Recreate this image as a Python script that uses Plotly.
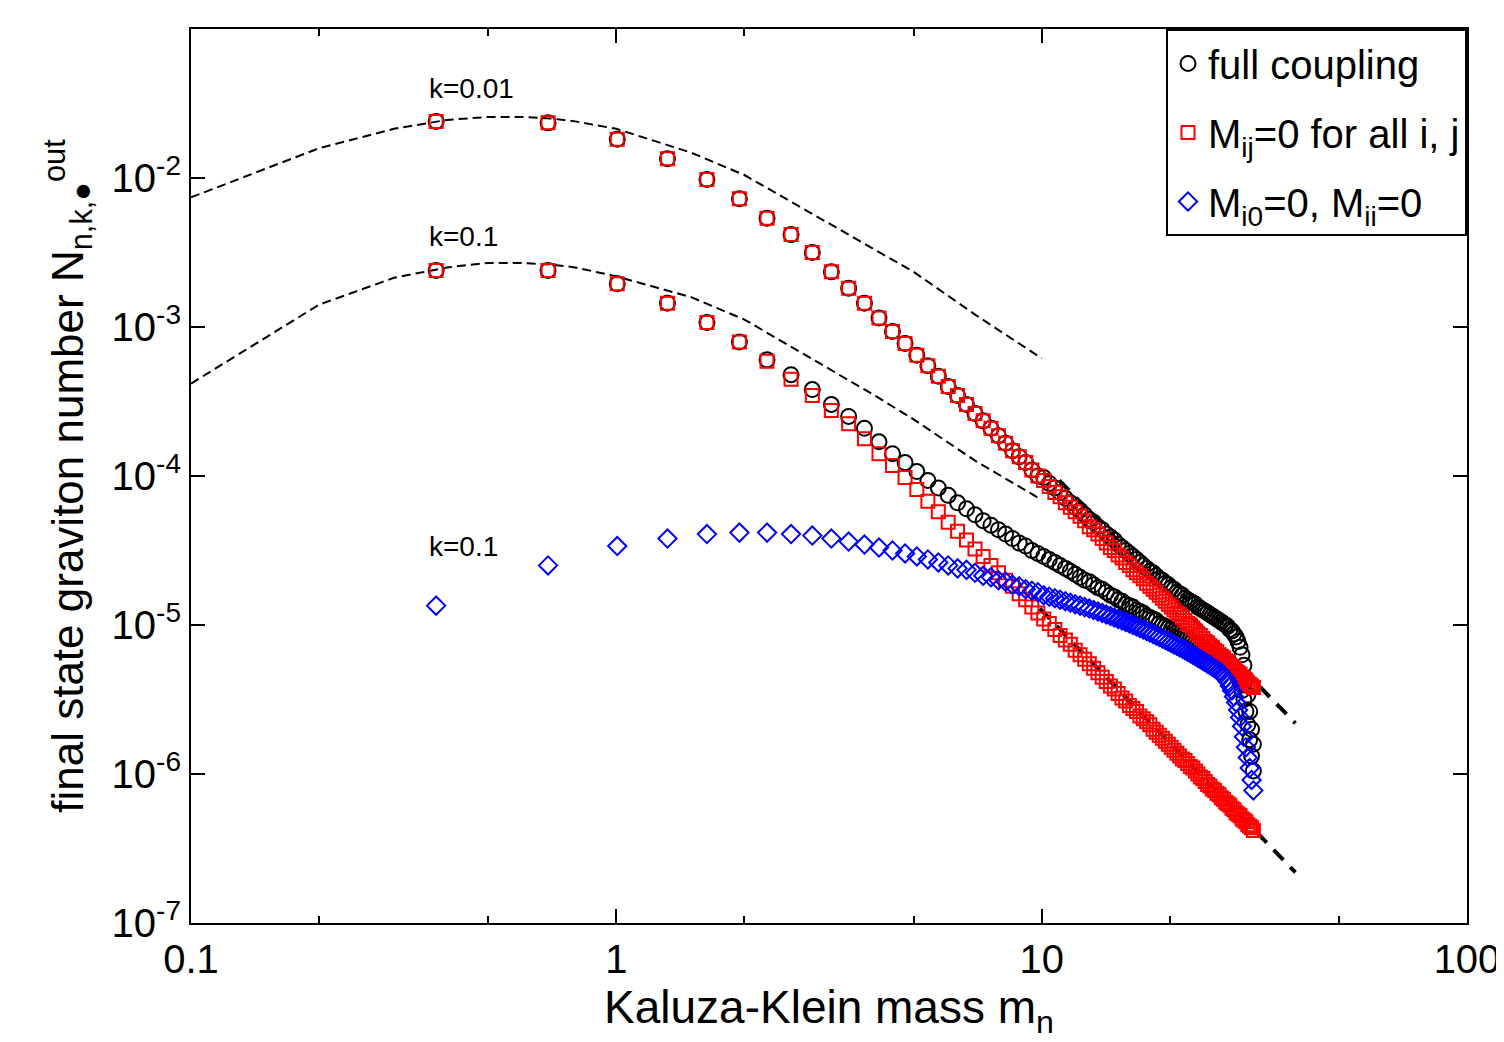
import plotly.graph_objects as go

# Kaluza-Klein masses m_n (n = 1..100)
mass = [0.377, 0.691, 1.005, 1.319, 1.633, 1.947, 2.261, 2.575, 2.889, 3.203,
        3.517, 3.831, 4.145, 4.459, 4.773, 5.087, 5.401, 5.715, 6.029, 6.343,
        6.657, 6.971, 7.285, 7.599, 7.913, 8.227, 8.541, 8.855, 9.169, 9.483,
        9.797, 10.11, 10.42, 10.74, 11.05, 11.37, 11.68, 11.99, 12.31, 12.62,
        12.94, 13.25, 13.56, 13.88, 14.19, 14.51, 14.82, 15.13, 15.45, 15.76,
        16.08, 16.39, 16.71, 17.02, 17.33, 17.65, 17.96, 18.28, 18.59, 18.90,
        19.22, 19.53, 19.85, 20.16, 20.47, 20.79, 21.10, 21.42, 21.73, 22.04,
        22.36, 22.67, 22.99, 23.30, 23.61, 23.93, 24.24, 24.56, 24.87, 25.18,
        25.50, 25.81, 26.13, 26.44, 26.75, 27.07, 27.38, 27.70, 28.01, 28.32,
        28.64, 28.95, 29.27, 29.58, 29.89, 30.21, 30.52, 30.84, 31.15, 31.46]

# log10 of N
full_k001 = [-1.62, -1.63, -1.74, -1.87, -2.01, -2.14, -2.27, -2.38, -2.50, -2.63,
             -2.74, -2.84, -2.94, -3.03, -3.11, -3.19, -3.26, -3.33, -3.40, -3.46,
             -3.52, -3.58, -3.63, -3.68, -3.73, -3.78, -3.83, -3.87, -3.91, -3.96,
             -4.00, -4.01, -4.05, -4.08, -4.11, -4.15, -4.18, -4.21, -4.23, -4.26,
             -4.29, -4.31, -4.34, -4.36, -4.39, -4.41, -4.43, -4.46, -4.48, -4.50,
             -4.52, -4.54, -4.56, -4.58, -4.60, -4.62, -4.64, -4.65, -4.67, -4.69,
             -4.70, -4.72, -4.73, -4.75, -4.76, -4.78, -4.79, -4.80, -4.82, -4.83,
             -4.84, -4.85, -4.86, -4.88, -4.89, -4.90, -4.91, -4.92, -4.93, -4.94,
             -4.95, -4.96, -4.97, -4.98, -4.99, -5.00, -5.01, -5.03, -5.04, -5.06,
             -5.08, -5.11, -5.15, -5.20, -5.27, -5.36, -5.47, -5.58, -5.70, -5.80]
mij_k001 = [-1.62, -1.63, -1.74, -1.87, -2.01, -2.14, -2.27, -2.38, -2.50, -2.63,
            -2.74, -2.84, -2.94, -3.03, -3.11, -3.19, -3.26, -3.33, -3.40, -3.46,
            -3.52, -3.58, -3.63, -3.68, -3.73, -3.78, -3.83, -3.87, -3.91, -3.96,
            -4.00, -4.03, -4.07, -4.11, -4.14, -4.18, -4.21, -4.24, -4.27, -4.30,
            -4.34, -4.36, -4.39, -4.42, -4.45, -4.48, -4.50, -4.53, -4.55, -4.58,
            -4.60, -4.63, -4.65, -4.67, -4.69, -4.72, -4.74, -4.76, -4.78, -4.80,
            -4.82, -4.84, -4.86, -4.88, -4.90, -4.92, -4.93, -4.95, -4.97, -4.99,
            -5.00, -5.02, -5.04, -5.06, -5.07, -5.09, -5.11, -5.12, -5.14, -5.15,
            -5.17, -5.18, -5.20, -5.21, -5.22, -5.24, -5.25, -5.27, -5.28, -5.29,
            -5.31, -5.32, -5.33, -5.35, -5.36, -5.37, -5.39, -5.40, -5.41, -5.42]
full_k01 = [-2.62, -2.62, -2.71, -2.84, -2.97, -3.10, -3.22, -3.32, -3.42, -3.52,
            -3.60, -3.68, -3.77, -3.85, -3.91, -3.97, -4.03, -4.08, -4.13, -4.18,
            -4.22, -4.26, -4.30, -4.33, -4.36, -4.39, -4.42, -4.45, -4.47, -4.50,
            -4.52, -4.54, -4.56, -4.58, -4.60, -4.62, -4.64, -4.66, -4.68, -4.70,
            -4.71, -4.73, -4.75, -4.76, -4.78, -4.80, -4.81, -4.83, -4.84, -4.86,
            -4.87, -4.88, -4.90, -4.91, -4.92, -4.94, -4.95, -4.96, -4.97, -4.99,
            -5.00, -5.01, -5.02, -5.03, -5.04, -5.05, -5.06, -5.07, -5.08, -5.09,
            -5.10, -5.11, -5.12, -5.13, -5.14, -5.15, -5.16, -5.17, -5.18, -5.19,
            -5.20, -5.21, -5.22, -5.23, -5.24, -5.25, -5.26, -5.27, -5.28, -5.30,
            -5.32, -5.35, -5.39, -5.44, -5.50, -5.58, -5.67, -5.77, -5.88, -5.98]
mij_k01 = [-2.62, -2.62, -2.71, -2.84, -2.97, -3.10, -3.23, -3.35, -3.46, -3.56,
           -3.65, -3.75, -3.85, -3.93, -4.01, -4.09, -4.17, -4.24, -4.31, -4.37,
           -4.43, -4.49, -4.54, -4.60, -4.65, -4.70, -4.74, -4.79, -4.83, -4.88,
           -4.92, -4.96, -4.99, -5.03, -5.07, -5.10, -5.13, -5.17, -5.20, -5.23,
           -5.26, -5.29, -5.32, -5.35, -5.38, -5.41, -5.43, -5.46, -5.49, -5.51,
           -5.54, -5.56, -5.58, -5.61, -5.63, -5.65, -5.67, -5.70, -5.72, -5.74,
           -5.76, -5.78, -5.80, -5.82, -5.84, -5.86, -5.88, -5.90, -5.91, -5.93,
           -5.95, -5.96, -5.98, -6.00, -6.02, -6.03, -6.05, -6.07, -6.08, -6.10,
           -6.11, -6.13, -6.14, -6.16, -6.17, -6.19, -6.20, -6.21, -6.23, -6.24,
           -6.26, -6.27, -6.28, -6.30, -6.31, -6.32, -6.34, -6.35, -6.36, -6.38]
mi0_k01 = [-4.87, -4.60, -4.47, -4.42, -4.39, -4.38, -4.38, -4.39, -4.40, -4.42,
           -4.44, -4.46, -4.48, -4.50, -4.52, -4.54, -4.56, -4.58, -4.60, -4.62,
           -4.63, -4.65, -4.67, -4.68, -4.70, -4.71, -4.73, -4.74, -4.76, -4.77,
           -4.78, -4.80, -4.81, -4.82, -4.83, -4.84, -4.85, -4.86, -4.87, -4.88,
           -4.89, -4.90, -4.91, -4.92, -4.93, -4.94, -4.95, -4.96, -4.97, -4.98,
           -4.99, -5.00, -5.01, -5.02, -5.03, -5.04, -5.05, -5.06, -5.07, -5.08,
           -5.09, -5.10, -5.11, -5.12, -5.13, -5.14, -5.15, -5.16, -5.17, -5.18,
           -5.19, -5.20, -5.21, -5.22, -5.23, -5.24, -5.25, -5.26, -5.27, -5.28,
           -5.29, -5.30, -5.31, -5.32, -5.34, -5.36, -5.38, -5.41, -5.44, -5.48,
           -5.52, -5.57, -5.62, -5.68, -5.75, -5.82, -5.89, -5.96, -6.04, -6.11]

# thin dashed curves
dash_x = [0.1, 0.2, 0.3, 0.4, 0.5, 0.6, 0.7, 0.8, 1, 1.5, 2, 3, 4, 5, 7, 10]
dash_k001 = [-2.13, -1.80, -1.67, -1.61, -1.59, -1.59, -1.60, -1.62, -1.67, -1.83,
             -1.98, -2.27, -2.47, -2.63, -2.92, -3.21]
dash_k01 = [-3.38, -2.85, -2.67, -2.60, -2.57, -2.57, -2.58, -2.60, -2.66, -2.80,
            -2.95, -3.24, -3.45, -3.62, -3.90, -4.16]
# thick dashed asymptotes
asym_up_x = [11.0, 39.5]
asym_up_y = [-4.03, -5.66]
asym_lo_x = [9.9, 39.5]
asym_lo_y = [-4.89, -6.66]

# curve labels: text, log10(x), log10(y)
labels = ["k=0.01", "k=0.1", "k=0.1"]
label_lx = [-0.341, -0.36, -0.36]
label_ly = [-1.40, -2.39, -4.47]

def p(v):
    return [10 ** a for a in v]

FONT = "Liberation Sans, Arial, sans-serif"
fig = go.Figure()

for xs, ys in [(dash_x, dash_k001), (dash_x, dash_k01)]:
    fig.add_trace(go.Scatter(x=xs, y=p(ys), mode="lines", showlegend=False,
                             line=dict(color="black", width=2, dash="9px,5px")))
for xs, ys in [(asym_up_x, asym_up_y), (asym_lo_x, asym_lo_y)]:
    fig.add_trace(go.Scatter(x=xs, y=p(ys), mode="lines", showlegend=False,
                             line=dict(color="black", width=4, dash="14px,10px")))

circ = dict(symbol="circle-open", size=15, color="black", line=dict(width=2, color="black"))
sq = dict(symbol="square-open", size=13, color="red", line=dict(width=2, color="red"))
dia = dict(symbol="diamond-open", size=14, color="blue", line=dict(width=2, color="blue"))

fig.add_trace(go.Scatter(x=mass, y=p(full_k001), mode="markers", marker=circ,
                         name="full coupling", legendrank=1, legendgroup="a"))
fig.add_trace(go.Scatter(x=mass, y=p(full_k01), mode="markers", marker=circ,
                         showlegend=False))
fig.add_trace(go.Scatter(x=mass, y=p(mij_k001), mode="markers", marker=sq,
                         name="M<sub>ij</sub>=0 for all i, j", legendrank=2, legendgroup="b"))
fig.add_trace(go.Scatter(x=mass, y=p(mij_k01), mode="markers", marker=sq,
                         showlegend=False))
fig.add_trace(go.Scatter(x=mass, y=p(mi0_k01), mode="markers", marker=dia,
                         name="M<sub>i0</sub>=0, M<sub>ii</sub>=0", legendrank=3, legendgroup="c"))

for txt, lx, ly in zip(labels, label_lx, label_ly):
    fig.add_annotation(x=lx, y=ly, text=txt, showarrow=False, xref="x", yref="y",
                       font=dict(size=28, color="black", family=FONT))

axis_common = dict(type="log", showline=True, linewidth=2, linecolor="black",
                   mirror="allticks", ticks="inside", ticklen=14, tickwidth=2,
                   tickcolor="black", showgrid=False, zeroline=False, automargin=False,
                   tickfont=dict(size=40, color="black", family=FONT))

fig.update_xaxes(range=[-1, 2], tickvals=[0.1, 1, 10, 100],
                 ticktext=["0.1", "1", "10", "100"],
                 minor=dict(ticks="inside", ticklen=7, tickwidth=2, tickcolor="black",
                            dtick="D2", showgrid=False),
                 title=dict(text="Kaluza-Klein mass m<sub>n</sub>",
                            font=dict(size=46, color="black", family=FONT), standoff=6),
                 **axis_common)
fig.update_yaxes(range=[-7, -1], tickvals=[1e-7, 1e-6, 1e-5, 1e-4, 1e-3, 1e-2, 1e-1],
                 ticktext=["10<sup>-7</sup>", "10<sup>-6</sup>", "10<sup>-5</sup>",
                           "10<sup>-4</sup>", "10<sup>-3</sup>", "10<sup>-2</sup>",
                           "10<sup>-1</sup>"],
                 title=dict(text="final state graviton number N<sub>n,k,●</sub><sup>out</sup>",
                            font=dict(size=44, color="black", family=FONT), standoff=14),
                 **axis_common)

fig.update_layout(width=1504, height=1042, plot_bgcolor="white", paper_bgcolor="white",
                  margin=dict(l=183, r=45, t=21, b=127),
                  font=dict(family=FONT, color="black"),
                  legend=dict(x=1, y=1, xanchor="right", yanchor="top",
                              bordercolor="black", borderwidth=2, bgcolor="white",
                              font=dict(size=40, family=FONT, color="black"),
                              itemsizing="trace", tracegroupgap=14))

fig.write_html("out.html")
